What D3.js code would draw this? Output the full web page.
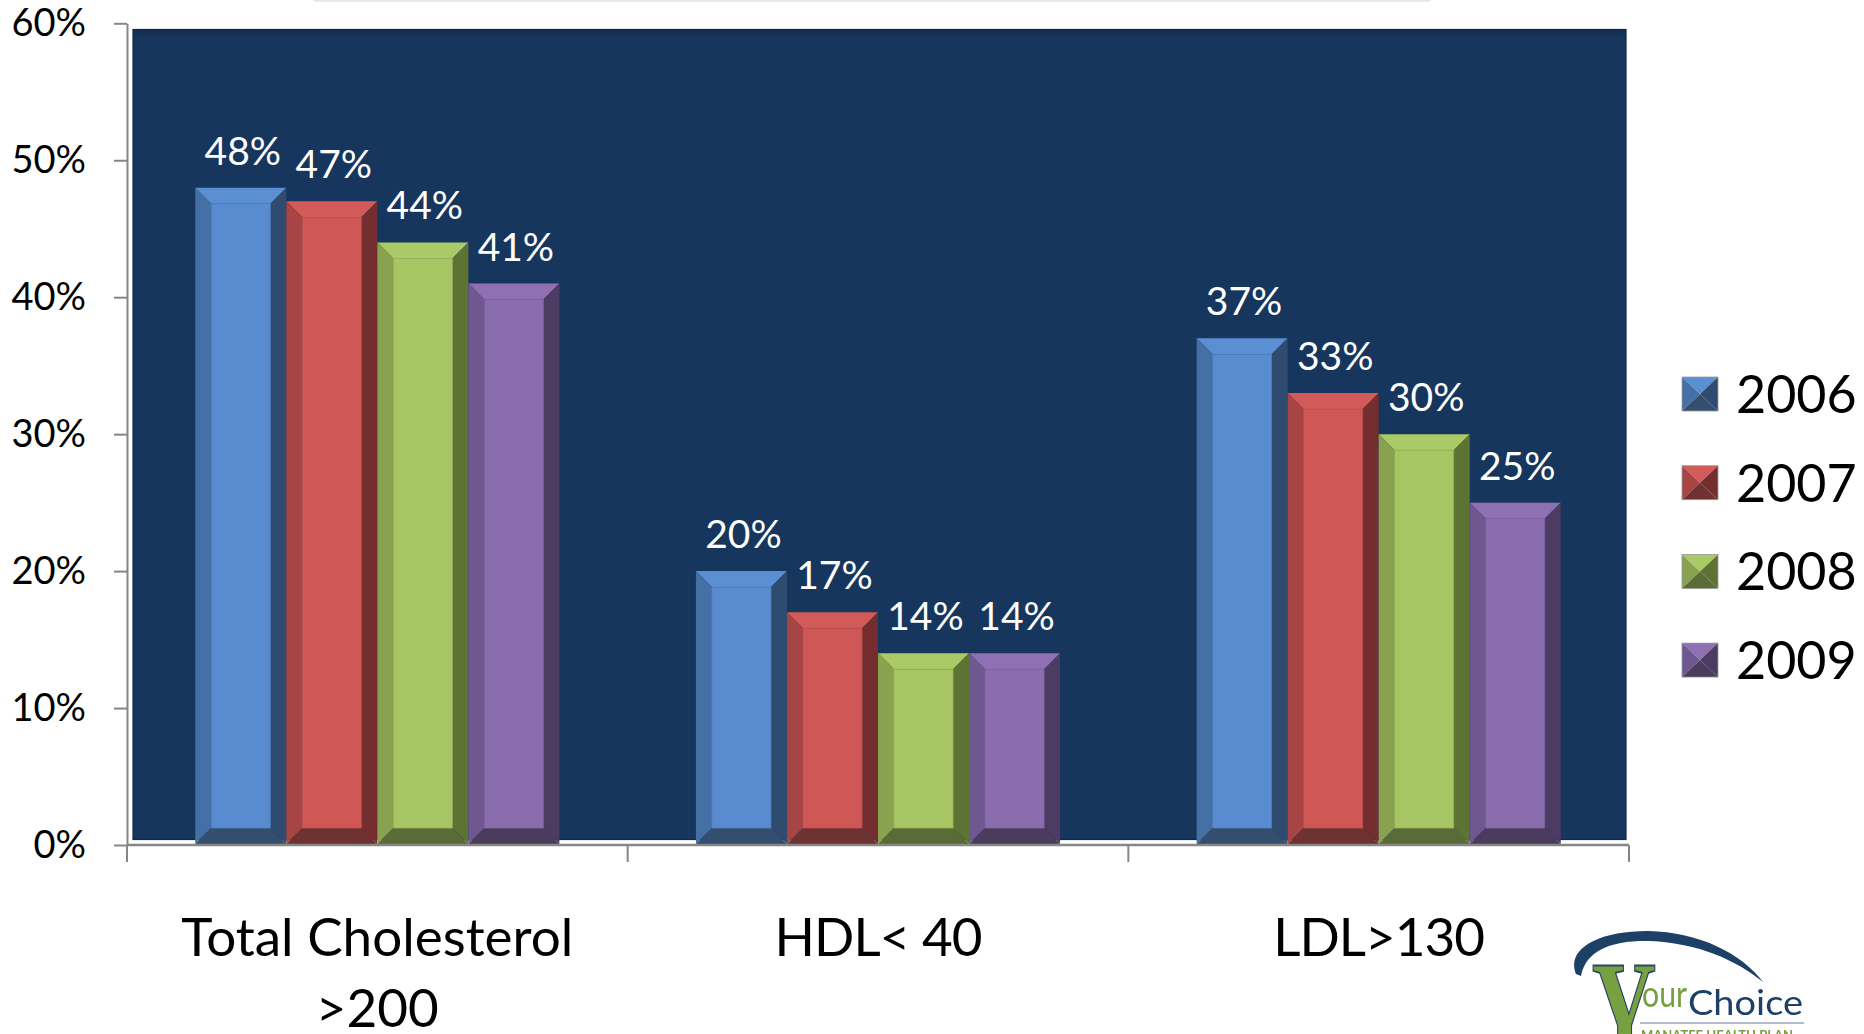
<!DOCTYPE html>
<html><head><meta charset="utf-8">
<script src="https://cdn.jsdelivr.net/npm/d3@7"></script>
<style>html,body{margin:0;padding:0;background:#fff;overflow:hidden}</style>
</head><body>
<svg id="chart" width="1864" height="1034"></svg>
<script>
// ---- data ----
const categories = ["Total Cholesterol >200", "HDL< 40", "LDL>130"];
const categoryLines = [["Total Cholesterol", ">200"], ["HDL< 40"], ["LDL>130"]];
const years = ["2006", "2007", "2008", "2009"];
const values2006 = [48, 20, 37];
const values2007 = [47, 17, 33];
const values2008 = [44, 14, 30];
const values2009 = [41, 14, 25];
const yTicks = [0, 10, 20, 30, 40, 50, 60];

const seriesValues = [values2006, values2007, values2008, values2009];

// bevel shades per series: face, top, left, right, bottom
const shades = [
  {face:"#588BCF", top:"#5B8FD3", left:"#4570A6", right:"#2F4B6F", bottom:"#344E6E"},
  {face:"#CF5856", top:"#D25B59", left:"#A74544", right:"#742E2F", bottom:"#6E3232"},
  {face:"#A5C663", top:"#A9CA66", left:"#88A24F", right:"#5D7334", bottom:"#5A6B38"},
  {face:"#8A6DAF", top:"#8E70B3", left:"#6F578F", right:"#4C3B62", bottom:"#4B3C5D"}
];

const FONT = "Lato, 'Open Sans', sans-serif";
const svg = d3.select("#chart");

const y = d3.scaleLinear().domain([0, 60]).range([845, 23.3]);
const x = d3.scaleBand().domain(categories).range([127, 1629]).padding(0);
const xs = d3.scaleBand().domain(years).range([0, x.bandwidth()])
  .paddingInner(0).paddingOuter(0.75);

// faint edge of the title box above the chart
svg.append("rect").attr("x", 311).attr("y", -30).attr("width", 1122).attr("height", 31)
  .attr("rx", 6).attr("fill", "#fff").attr("stroke", "#e4e4e4").attr("stroke-width", 1.5);

// plot background
const defs = svg.append("defs");
const g = defs.append("linearGradient").attr("id", "bgShade").attr("x1", 0).attr("y1", 0).attr("x2", 0).attr("y2", 1);
g.append("stop").attr("offset", "0").attr("stop-color", "#132C4D");
g.append("stop").attr("offset", "0.012").attr("stop-color", "#17365D");
g.append("stop").attr("offset", "1").attr("stop-color", "#17365D");
svg.append("rect").attr("x", 133).attr("y", 29.5).attr("width", 1493).attr("height", 810)
  .attr("fill", "url(#bgShade)").attr("stroke", "#12294A").attr("stroke-width", 1.2);

// bars with bevelled edges
const B = 16;
const barLayer = svg.append("g");
categories.forEach((cat, ci) => {
  years.forEach((yr, si) => {
    const v = seriesValues[si][ci];
    const x0 = x(cat) + xs(yr), x1 = x0 + xs.bandwidth();
    const t = y(v), b = y(0) - 1;
    const s = shades[si];
    const bb = Math.min(B, (b - t) / 2);
    const gg = barLayer.append("g");
    const poly = (pts, fill) => gg.append("polygon").attr("points", pts.map(p => p.join(",")).join(" ")).attr("fill", fill);
    poly([[x0,t],[x1,t],[x1-bb,t+bb],[x0+bb,t+bb]], s.top);
    poly([[x0,t],[x0+bb,t+bb],[x0+bb,b-bb],[x0,b]], s.left);
    poly([[x1,t],[x1,b],[x1-bb,b-bb],[x1-bb,t+bb]], s.right);
    poly([[x0,b],[x0+bb,b-bb],[x1-bb,b-bb],[x1,b]], s.bottom);
    gg.append("rect").attr("x", x0+bb).attr("y", t+bb).attr("width", x1-x0-2*bb).attr("height", b-t-2*bb)
      .attr("fill", s.face).attr("stroke", d3.color(s.face).darker(0.25)).attr("stroke-width", 0.8);
    // value label
    svg.append("text").attr("x", (x0 + x1) / 2 + 2).attr("y", t - 23)
      .attr("text-anchor", "middle").attr("fill", "#fff")
      .style("font-family", FONT).style("font-size", "39px").text(v + "%");
  });
});

// y axis
const yAxis = d3.axisLeft(y).tickValues(yTicks).tickFormat(d => d + "%")
  .tickSize(13).tickSizeOuter(0).tickPadding(28);
const ya = svg.append("g").attr("transform", "translate(127,0)").call(yAxis);
ya.select(".domain").attr("stroke", "#868686").attr("stroke-width", 2);
ya.selectAll(".tick line").attr("stroke", "#868686").attr("stroke-width", 2);
ya.selectAll(".tick text").attr("fill", "#000").style("font-family", FONT).style("font-size", "38px");

// x axis: baseline and ticks at category boundaries
const bounds = categories.map(c => x(c)).concat([x.range()[1]]);
svg.append("line").attr("x1", 127).attr("x2", x.range()[1]).attr("y1", y(0)).attr("y2", y(0))
  .attr("stroke", "#868686").attr("stroke-width", 2.5);
svg.selectAll(".xtick").data(bounds).join("line").attr("class", "xtick")
  .attr("x1", d => d).attr("x2", d => d).attr("y1", y(0)).attr("y2", y(0) + 17)
  .attr("stroke", "#868686").attr("stroke-width", 2);

// category labels
categories.forEach((cat, ci) => {
  const cx = x(cat) + x.bandwidth() / 2;
  categoryLines[ci].forEach((line, li) => {
    svg.append("text").attr("x", cx).attr("y", 956 + li * 71)
      .attr("text-anchor", "middle").attr("fill", "#000")
      .style("font-family", FONT).style("font-size", "53px")
      .style("letter-spacing", ci === 0 ? "0px" : "-1px").text(line);
  });
});

// legend
const lg = svg.append("g");
years.forEach((yr, si) => {
  const cy = 394 + si * 88.7;
  const s = shades[si];
  const lx0 = 1682, lx1 = 1718, ly0 = cy - 17, ly1 = cy + 17;
  const mx = (lx0 + lx1) / 2, my = cy;
  const tri = (pts, fill) => lg.append("polygon").attr("points", pts.map(p => p.join(",")).join(" ")).attr("fill", fill);
  tri([[lx0,ly0],[lx1,ly0],[mx,my]], s.top);
  tri([[lx0,ly0],[mx,my],[lx0,ly1]], s.left);
  tri([[lx1,ly0],[lx1,ly1],[mx,my]], s.right);
  tri([[lx0,ly1],[mx,my],[lx1,ly1]], s.bottom);
  lg.append("rect").attr("x", lx0).attr("y", ly0).attr("width", lx1-lx0).attr("height", ly1-ly0)
    .attr("fill", "none").attr("stroke", "#9a9a9a").attr("stroke-width", 0.8);
  lg.append("text").attr("x", 1736).attr("y", cy + 19).attr("fill", "#000")
    .style("font-family", FONT).style("font-size", "52px").text(yr);
});

// logo
const blur = defs.append("filter").attr("id", "soft");
blur.append("feGaussianBlur").attr("stdDeviation", 0.6);
const logo = svg.append("g").attr("filter", "url(#soft)");
logo.append("path")
  .attr("d", "M1576,974 C1566,950 1596,931 1648,931 C1700,932 1742,954 1763,982 C1736,960 1698,943 1650,941 C1612,940 1586,950 1581,976 Z")
  .attr("fill", "#1F3F66");
logo.append("text").attr("transform", "translate(1624,1064) scale(0.6,1)")
  .attr("text-anchor", "middle").attr("fill", "#77A03F").attr("stroke", "#2A4466").attr("stroke-width", 1.8)
  .style("font-family", "'Liberation Serif', serif").style("font-size", "150px").style("font-weight", "bold").text("Y");
logo.append("text").attr("x", 1642).attr("y", 1007).attr("fill", "#77A03F")
  .style("font-family", FONT).style("font-size", "37px").attr("textLength", 45).attr("lengthAdjust", "spacingAndGlyphs").text("our");
logo.append("text").attr("x", 1688).attr("y", 1015).attr("fill", "#1F3F66")
  .style("font-family", FONT).style("font-size", "35px").attr("textLength", 115).attr("lengthAdjust", "spacingAndGlyphs").text("Choice");
logo.append("line").attr("x1", 1640).attr("x2", 1804).attr("y1", 1023).attr("y2", 1023)
  .attr("stroke", "#9AA6BE").attr("stroke-width", 1.5);
logo.append("text").attr("x", 1641).attr("y", 1040).attr("fill", "#77A03F")
  .style("font-family", FONT).style("font-size", "13px").style("font-weight", "bold")
  .attr("textLength", 152).attr("lengthAdjust", "spacing").text("MANATEE HEALTH PLAN");
</script>
</body></html>
